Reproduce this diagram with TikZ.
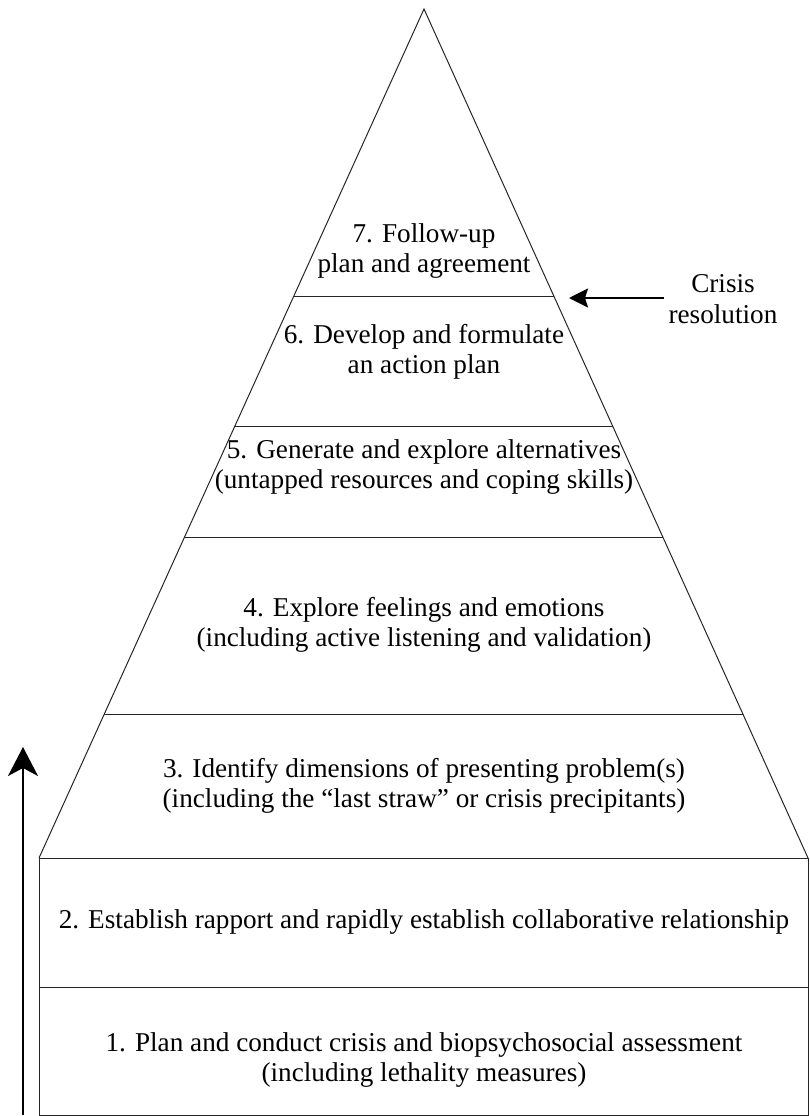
\documentclass[tikz,border=0pt]{standalone}
\usepackage{fontspec}
\setmainfont{Liberation Serif}
\usetikzlibrary{arrows.meta,calc}
\begin{document}
\begin{tikzpicture}[x=1pt,y=-1pt,
  edge/.style={line width=1pt,black!85},
  lbl/.style={align=center,font=\fontsize{27.2}{30.5}\selectfont,inner sep=0pt},
  bigarrow/.style={line width=2pt,-{Stealth[length=29pt,width=30pt,inset=8pt]}},
  smallarrow/.style={line width=2pt,-{Stealth[length=19pt,width=19pt,inset=3pt]}}]
\useasboundingbox (0,0) rectangle (809,1116);
% pyramid
\coordinate (apex) at (424,9);
\coordinate (bl) at (39,858);
\coordinate (br) at (808,858);
\coordinate (rbl) at (39,1115);
\coordinate (rbr) at (808,1115);
\draw[edge] (bl) -- (apex) -- (br);
\draw[edge] (bl) rectangle (rbr);
\draw[edge] (39,987) -- (808,987);
\foreach \t/\n in {0.3392/a,0.4923/b,0.6219/c,0.8304/d}{
  \draw[edge] ($(apex)!\t!(bl)$) coordinate (L\n) -- ($(apex)!\t!(br)$) coordinate (R\n);
}
\draw[edge] (bl) -- (br);
% labels
\node[lbl] (s7) at (424,251) {7. Follow-up\\plan and agreement};
\node[lbl] (s6) at (424,352) {6. Develop and formulate\\an action plan};
\node[lbl] (s5) at (424,467) {5. Generate and explore alternatives\\(untapped resources and coping skills)};
\node[lbl] (s4) at (424,625) {4. Explore feelings and emotions\\(including active listening and validation)};
\node[lbl] (s3) at (424,786) {3. Identify dimensions of presenting problem(s)\\(including the “last straw” or crisis precipitants)};
\node[lbl] (s2) at (424,922) {2. Establish rapport and rapidly establish collaborative relationship};
\node[lbl] (s1) at (424,1060) {1. Plan and conduct crisis and biopsychosocial assessment\\(including lethality measures)};
\node[lbl] (cr) at (723,299) {Crisis\\resolution};
% arrows
\coordinate (upS) at (23,1115);
\coordinate (upE) at (23,747);
\draw[bigarrow] (upS) -- (upE);
\coordinate (crS) at (664,298);
\coordinate (crE) at (569,298);
\draw[smallarrow] (crS) -- (crE);
\end{tikzpicture}
\end{document}
